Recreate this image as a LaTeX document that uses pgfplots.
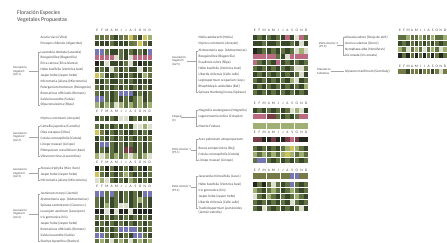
\documentclass[border=0pt]{standalone}
\usepackage{fontspec}
\setmainfont{Carlito}
\usepackage{pgfplots}
\usepackage{pgfplotstable}
\pgfplotsset{compat=1.18}
\definecolor{cd}{RGB}{56,70,42}
\definecolor{cg}{RGB}{96,114,66}
\definecolor{cl}{RGB}{160,176,116}
\definecolor{co}{RGB}{118,122,70}
\definecolor{ck}{RGB}{34,38,30}
\definecolor{cw}{RGB}{220,222,206}
\definecolor{cp}{RGB}{188,106,130}
\definecolor{cb}{RGB}{118,118,180}
\definecolor{cy}{RGB}{206,196,92}
\definecolor{cr}{RGB}{120,60,70}
\definecolor{txt}{RGB}{70,70,70}
\pgfdeclareplotmark{cellA}{\pgfpathrectangle{\pgfpoint{-2.05pt}{-2.6pt}}{\pgfpoint{4.1pt}{5.2pt}}\pgfusepathqfill}
\pgfdeclareplotmark{cellC}{\pgfpathrectangle{\pgfpoint{-1.75pt}{-2.6pt}}{\pgfpoint{3.5pt}{5.2pt}}\pgfusepathqfill}

\pgfplotstableread{
y c1 c2 c3 c4 c5 c6 c7 c8 c9 c10 c11 c12
37.5 g g o g d g o y o d y l
43.3 d d d g d d d g o y o d
52.0 b b g d d g d g d g d b
57.9 p p p p w g d w p p p p
63.8 k d w d d d g w d k d d
69.7 d g d w g d g d d w d g
75.6 y l d d g d d g d d l g
81.4 d d g d d g d g d d d d
87.3 g d g d g d g d g d g d
93.2 g d g d g b b b d g d g
99.1 b b g d g d g d g l d g
105.0 l g l g w l g l g l g l
118.5 d g d g d w w d g d g d
126.5 g d g d g d g d w w l w
132.4 y o d g d g d d g d g d
138.3 d g d g d g d g d g d g
144.2 d b b g d g d g d g d g
150.1 d g d g d g r r d g d g
156.0 l w l g l g l w l g l w
168.5 k g k g k d g k g d k g
174.4 y g d g d g l g d g d g
180.3 w l w g d g d l g d g d
194.0 b b g b g d g d g d b b
199.9 g d g d g d g d g l g d
205.8 g d l d g w w d g d g d
211.7 k k w k w k k w k k k k
217.6 g d g d g d g d g d g d
223.5 d g d g d g d g d g d g
229.4 g d g d g b b b b g d g
235.3 b b g d g d g d b b g d
241.2 g l g w g l g w g l g l
}\tA

\pgfplotstableread{
y c1 c2 c3 c4 c5 c6 c7 c8 c9 c10 c11 c12
37.5 d g d g d g d p d w p g
43.3 d d g d d g d d g d w d
51.0 k d g d g d g d g w l w
56.9 p p p p p g d w p p p p
62.8 p g d g d p d g d g d g
68.7 g d g d g d g d g w w g
74.6 d g d g d g d g d g w d
80.5 g d g d g d g d l w d g
86.4 d g d g d g d g d g d l
92.3 g d g d g d g d g d g d
110.5 d g d g d g d g w l w d
116.4 p p p r r g d g d g p p
126.0 l l l l l l l l l l l l
139.5 r r k k r k k r p r k k
148.5 g d g d g d g l y l g d
154.4 l g l g l g l y l g l g
160.3 g b b g d g d g d g d g
176.0 o o o o o o o o b b o o
184.5 k g k g w g d g b g d g
190.4 l g d g l g d g l g d g
196.3 w g d l g d g d g l g d
202.2 g d g d g d g d w g d g
208.1 g d w g d g d g d g w d
}\tB

\pgfplotstableread{
y c1 c2 c3 c4 c5 c6 c7 c8 c9 c10 c11 c12
37.5 g g l g g l g g l g g l
43.4 d g d g d g d g d g d g
49.3 l g w g l g w g l g w l
55.2 k g k g k g k g k g k g
71.5 o o d o o d o o d o w o
}\tC

\newcommand{\hdr}[3]{\foreach \i/\L in {1/E,2/F,3/M,4/A,5/M,6/J,7/J,8/A,9/S,10/O,11/N,12/D}{\node[hd] at ({#1+(\i-0.5)*#2},#3) {\L};}}
\newcommand{\rl}[3]{\node[rl] at (#1,#2) {#3};}

\begin{document}
\begin{tikzpicture}
\begin{axis}[at={(0,0)},anchor=south west,
  width=447pt,height=243pt,scale only axis,
  xmin=0,xmax=447,ymin=0,ymax=243,y dir=reverse,
  hide axis,clip=false,
  cellplot/.style={scatter,only marks,point meta=explicit symbolic,
    scatter/classes={d={fill=cd},g={fill=cg},l={fill=cl},o={fill=co},k={fill=ck},
      w={fill=cw},p={fill=cp},b={fill=cb},y={fill=cy},r={fill=cr}}}]
\pgfplotsinvokeforeach{1,...,12}{
  \addplot[cellplot,mark=cellA] table[x expr={95+(#1-0.5)*4.75},y=y,meta=c#1]{\tA};
  \addplot[cellplot,mark=cellA] table[x expr={252.5+(#1-0.5)*4.67},y=y,meta=c#1]{\tB};
  \addplot[cellplot,mark=cellC] table[x expr={398+(#1-0.5)*4.08},y=y,meta=c#1]{\tC};
}
\end{axis}
\begin{scope}[x=1pt,y=-1pt,yshift=243pt,
  hd/.style={font=\fontsize{3.6}{4}\selectfont,text=txt,inner sep=0pt},
  rl/.style={font=\fontsize{3.5}{4}\selectfont,text=txt,inner sep=0pt,anchor=west},
  gl/.style={font=\fontsize{3.1}{3.6}\selectfont,text=txt,inner sep=0pt,anchor=west,align=left},
  br/.style={draw=gray!70,line width=0.25pt}]
\node[anchor=west,inner sep=0pt,text=txt,font=\fontsize{5.8}{6.5}\selectfont] at (17,12.7) {Floración Especies};
\node[anchor=west,inner sep=0pt,text=txt,font=\fontsize{5.8}{6.5}\selectfont] at (17,20.2) {Vegetales Propuestas};
% headers
\hdr{95}{4.75}{30.5}
\hdr{95}{4.75}{111.5}
\hdr{95}{4.75}{162.5}
\hdr{95}{4.75}{186.7}
\hdr{252.5}{4.67}{30.5}
\hdr{252.5}{4.67}{103}
\hdr{252.5}{4.67}{132}
\hdr{252.5}{4.67}{170}
\hdr{398}{4.08}{30.5}
\hdr{398}{4.08}{66}
% column 1 row labels
\rl{40.5}{37.5}{Acacia visco (Vilca)}
\rl{40.5}{43.3}{Prosopis chilensis (Algarrobo)}
\rl{40.5}{52.0}{Lavandula dentata (Lavanda)}
\rl{40.5}{57.9}{Bougainvillea (Buganvilia)}
\rl{40.5}{63.8}{Erica carnea (Erica blanca)}
\rl{40.5}{69.7}{Hebe buxifolia (Verónica buxi)}
\rl{40.5}{75.6}{Jasper hebe (Jasper hebe)}
\rl{40.5}{81.4}{Micromeria juliana (Micromeria)}
\rl{40.5}{87.3}{Pelargonium hortorum (Pelargonio)}
\rl{40.5}{93.2}{Rosmarinus officinalis (Romero)}
\rl{40.5}{99.1}{Salvia leucantha (Salvia)}
\rl{40.5}{105.0}{Stipa tenuissima (Stipa)}
\rl{40.5}{118.5}{Myrtus communis (Arrayán)}
\rl{40.5}{126.5}{Camellia japonica (Camelia)}
\rl{40.5}{132.4}{Olea europea (Olivo)}
\rl{40.5}{138.3}{Cotula coronopifolia (Cotula)}
\rl{40.5}{144.2}{Liriope muscari (Liriope)}
\rl{40.5}{150.1}{Pittosporum crassifolium (Karo)}
\rl{40.5}{156.0}{Viburnum tinus (Laurentina)}
\rl{40.5}{168.5}{Aloysia triphylla (Hier. Ram)}
\rl{40.5}{174.4}{Jasper hebe (Jasper hebe)}
\rl{40.5}{180.3}{Micromeria juliana (Micromeria)}
\rl{40.5}{194.0}{Jasminum mesnyi (Jazmín)}
\rl{40.5}{199.9}{Alstroemeria spp. (Alstroemerias)}
\rl{40.5}{205.8}{Spiraea cantoniensis (Corona n.)}
\rl{40.5}{211.7}{Leucojum aestivum (Leucojum)}
\rl{40.5}{217.6}{Iris germanica (Iris)}
\rl{40.5}{223.5}{Jasper hebe (Jasper hebe)}
\rl{40.5}{229.4}{Rosmarinus officinalis (Romero)}
\rl{40.5}{235.3}{Salvia leucantha (Salvia)}
\rl{40.5}{241.2}{Stachys byzantina (Stachys)}
% column 1 groups
\node[gl] at (13,71.5) {Asociación\\Vegetal 1\\(AV-1)};
\draw[br] (40,52)--(38.5,52)--(38.5,105)--(40,105) (29,71.5)--(38.5,71.5);
\node[gl] at (13,137) {Asociación\\Vegetal 2\\(AV-2)};
\draw[br] (40,126.5)--(38.5,126.5)--(38.5,156)--(40,156) (29,137)--(38.5,137);
\node[gl] at (13,173.5) {Asociación\\Vegetal 3\\(AV-3)};
\draw[br] (40,168.5)--(38.5,168.5)--(38.5,180.3)--(40,180.3) (29,173.5)--(38.5,173.5);
\node[gl] at (13,214) {Asociación\\Vegetal 4\\(AV-4)};
\draw[br] (40,194)--(38.5,194)--(38.5,241)--(40,241) (29,214)--(38.5,214);
% column 2 row labels
\rl{198.5}{37.5}{Melia azedarach (Melia)}
\rl{198.5}{43.3}{Myrtus communis (Arrayán)}
\rl{198.5}{51.0}{Alstroemeria spp. (Alstroemerias)}
\rl{198.5}{56.9}{Bougainvillea (Buganvilia)}
\rl{198.5}{62.8}{Escallonia rubra (Ñipa)}
\rl{198.5}{68.7}{Hebe buxifolia (Verónica buxi)}
\rl{198.5}{74.6}{Libertia chilensis (Calle calle)}
\rl{198.5}{80.5}{Leptospermum scoparium (Lep.)}
\rl{198.5}{86.4}{Rhaphiolepis umbellata (Raf.)}
\rl{198.5}{92.3}{Spiraea thunbergii nana (Spiraea)}
\rl{198.5}{110.5}{Magnolia soulangeana (Magnolia)}
\rl{198.5}{116.4}{Lagerstroemia indica (Crespón)}
\rl{198.5}{126.0}{Mezcla Festuca}
\rl{198.5}{139.5}{Acer palmatum atropurpureum}
\rl{198.5}{148.5}{Buxus sempervirens (Boj)}
\rl{198.5}{154.4}{Cotula coronopifolia (Cotula)}
\rl{198.5}{160.3}{Liriope muscari (Liriope)}
\rl{198.5}{176.0}{Jacaranda mimosifolia (Jacar.)}
\rl{198.5}{184.5}{Hebe buxifolia (Verónica buxi)}
\rl{198.5}{190.4}{Iris germanica (Iris)}
\rl{198.5}{196.3}{Jasper hebe (Jasper hebe)}
\rl{198.5}{202.2}{Libertia chilensis (Calle calle)}
\node[rl,align=left] at (198.5,210.5) {Trachelospermum jasminoides\\(Jazmín estrella)};
% column 2 groups
\node[gl] at (172,61) {Asociación\\Vegetal 5\\(AV-5)};
\draw[br] (198,51)--(196.5,51)--(196.5,92.3)--(198,92.3) (187,61)--(196.5,61);
\node[gl] at (172,118.5) {Césped\\(C)};
\draw[br] (198,110.5)--(196.5,110.5)--(196.5,126)--(198,126) (181,117.5)--(196.5,117.5);
\node[gl] at (172,151) {Patio interior 1\\(PT-1)};
\draw[br] (198,139.5)--(196.5,139.5)--(196.5,160.3)--(198,160.3) (191,150)--(196.5,150);
\node[gl] at (172,188.5) {Patio interior 2\\(PT-2)};
\draw[br] (198,176)--(196.5,176)--(196.5,208)--(198,208) (191,187.5)--(196.5,187.5);
% column 3
\rl{345}{37.5}{Alocasia odora (Oreja de elef.)}
\rl{345}{43.4}{Acorus calamus (Ácoro)}
\rl{345}{49.3}{Nymphaea alba (Nenúfares)}
\rl{345}{55.2}{Iris ensata (Iris ensata)}
\rl{345}{71.5}{Alyssum maritimum (Sam Katy)}
\node[gl] at (319,45) {Patio interior 3\\(PT-3)};
\draw[br] (344.5,37.5)--(343,37.5)--(343,55.2)--(344.5,55.2) (337,45)--(343,45);
\node[gl] at (317,71.5) {Maceteros\\Cubiertas};
\draw[br] (331,71.5)--(344,71.5);
\end{scope}
\pgfresetboundingbox
\path (0,0) rectangle (447pt,243pt);
\end{tikzpicture}
\end{document}
